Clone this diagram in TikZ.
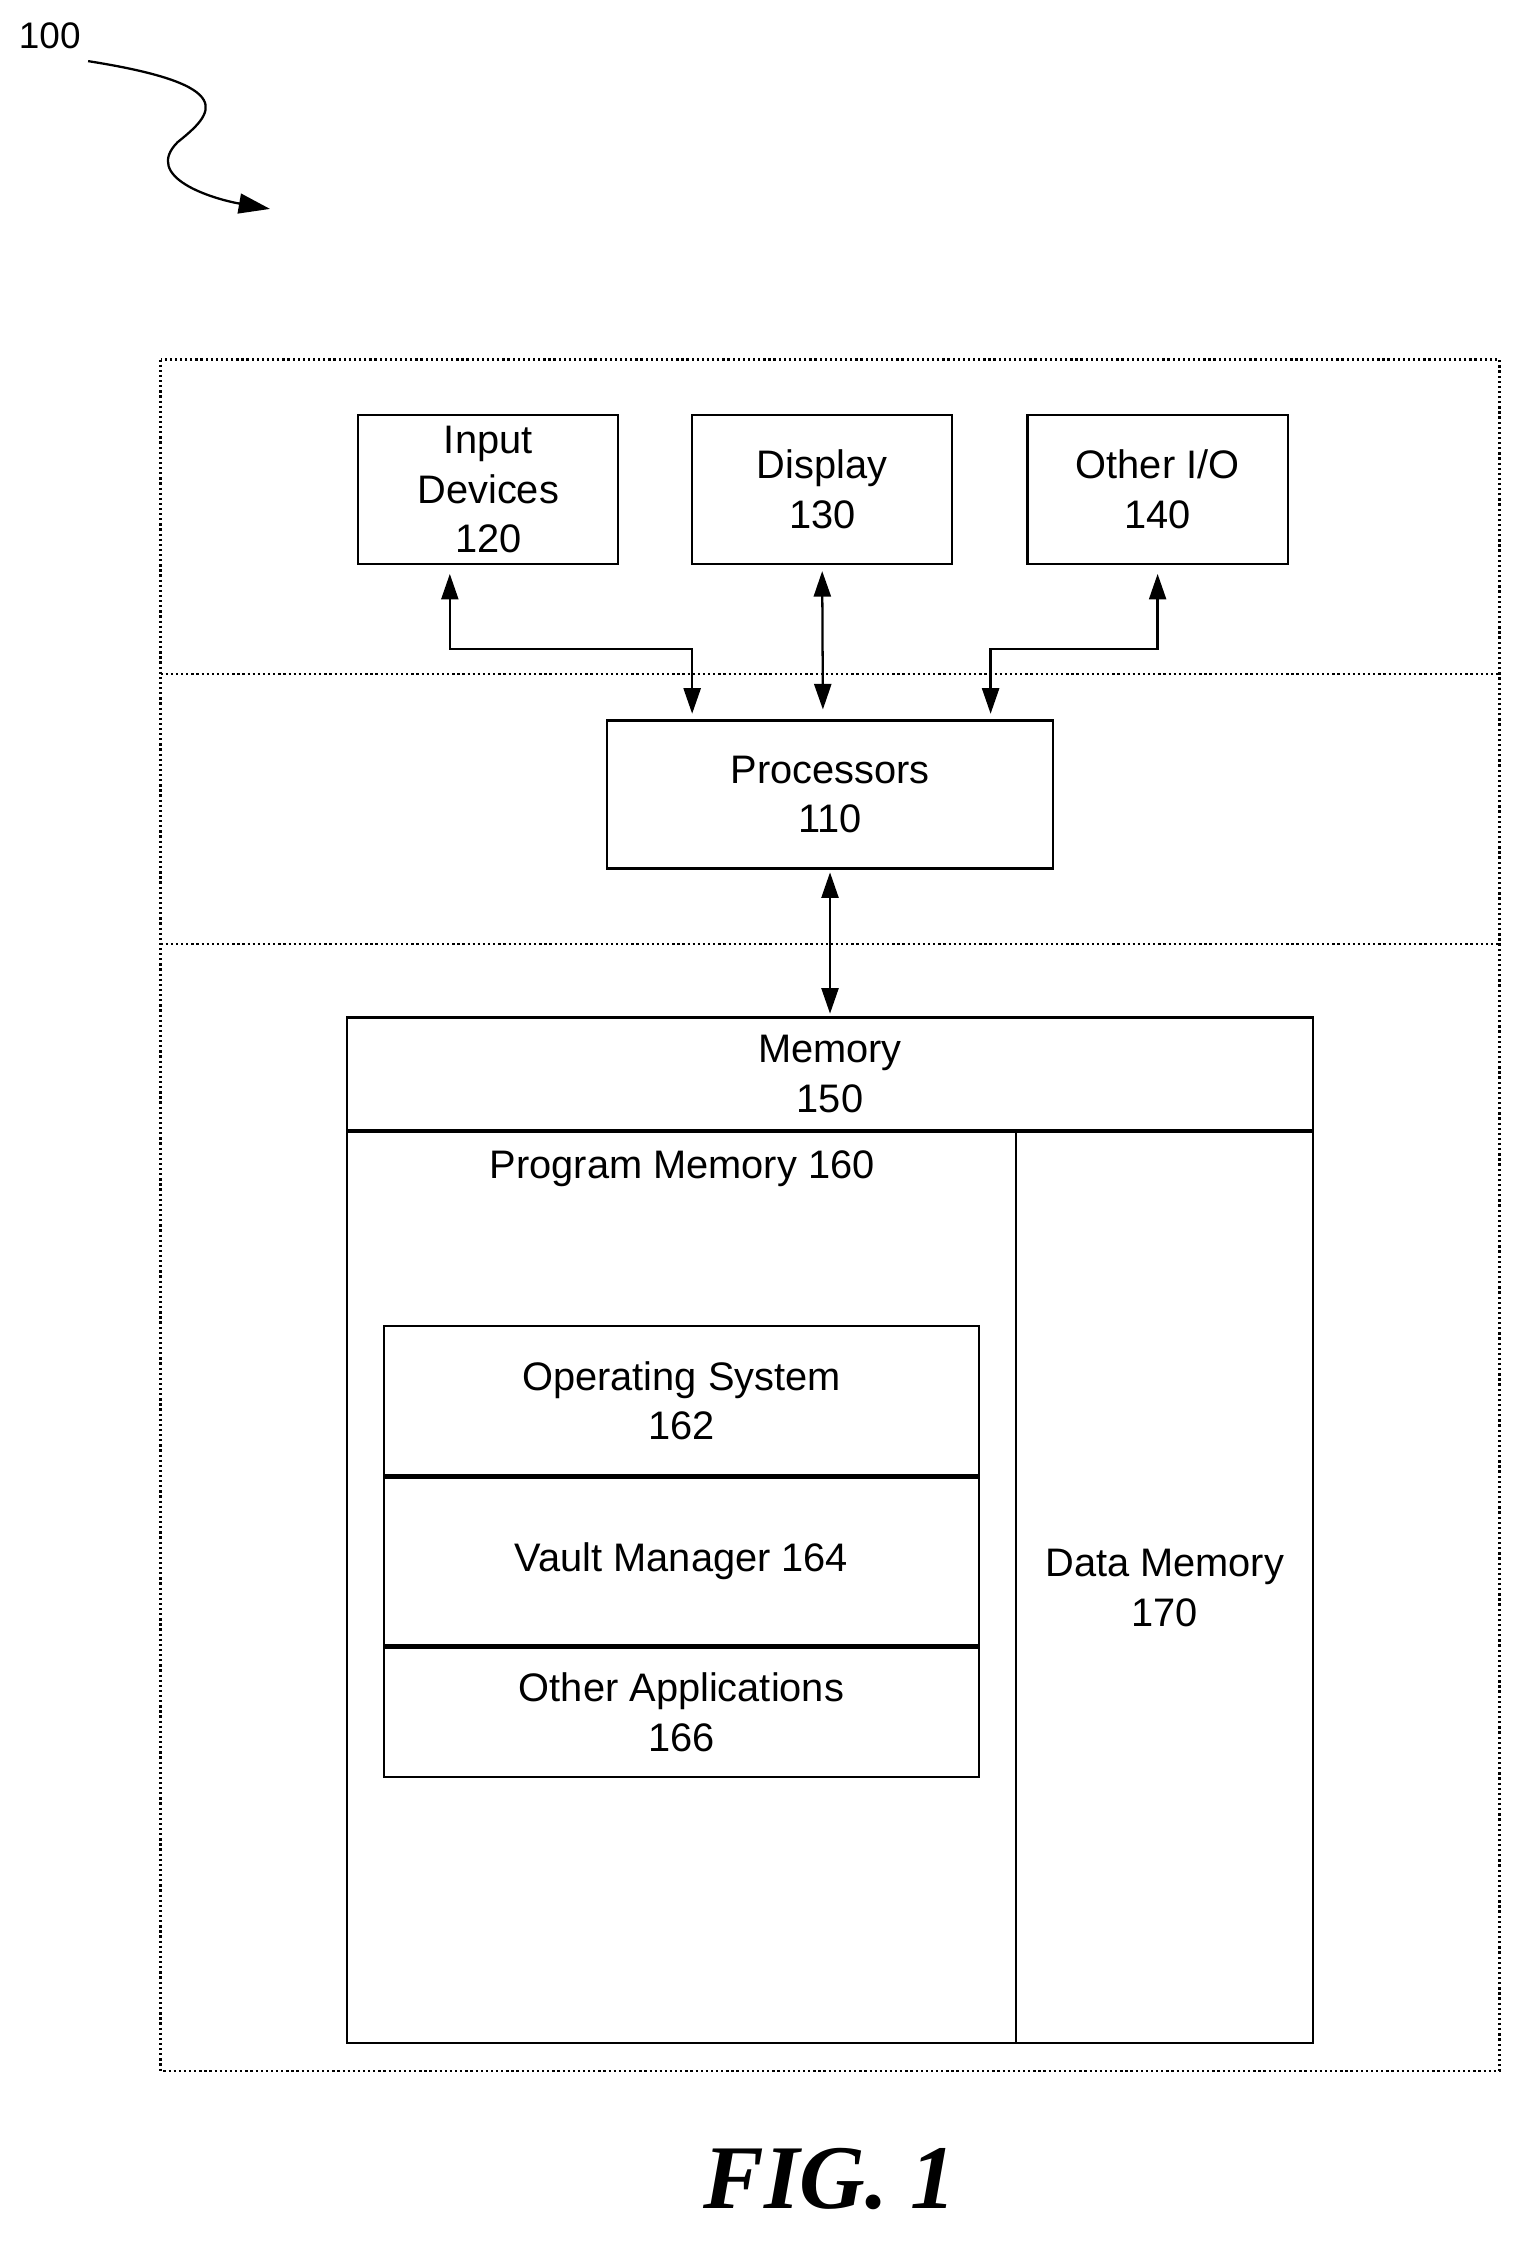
\documentclass[tikz,border=0pt]{standalone}
\usepackage{fontspec}
\setmainfont{Liberation Sans}
\newfontfamily\figfont{Liberation Serif}
\usetikzlibrary{arrows.meta,positioning}
\tikzset{
    unit-box/.style = {draw, thick, rectangle, align=center, inner sep=0pt, font=\fontsize{14}{17.5}\selectfont},
    zone/.style = {draw, densely dotted, thick},
    bus/.style = {thick, {Triangle[width=6pt,length=9pt]}-{Triangle[width=6pt,length=9pt]}},
}
\begin{document}
\begin{tikzpicture}[x=0.5pt,y=-0.5pt]
\useasboundingbox (0,0) rectangle (1080,1581);
% reference and zones
\node[font=\fontsize{13}{15}\selectfont] (ref) at (35,25) {100};
\coordinate (refend) at (190,147);
\draw[thick,-{Triangle[width=7pt,length=11pt]}] (62,43) .. controls (170,60) and (150,80) .. (125,100) .. controls (100,125) and (150,140) .. (refend);
\draw[zone] (113,253) rectangle (1055,1457);
\draw[zone] (113,474) -- (1055,474);
\draw[zone] (113,664) -- (1055,664);
% io devices
\node[unit-box, minimum width=91.5pt, minimum height=52.5pt] (input) at (343.5,344.5) {Input\\Devices\\120};
\node[unit-box, minimum width=91.5pt, minimum height=52.5pt] (display) at (578.5,344.5) {Display\\130};
\node[unit-box, minimum width=91.5pt, minimum height=52.5pt] (otherio) at (814.5,344.5) {Other I/O\\140};
\node[unit-box, minimum width=157pt, minimum height=52pt] (proc) at (584,559) {Processors\\110};
% memory
\node[unit-box, minimum width=340pt, minimum height=39.5pt] (mem) at (584,755.5) {Memory\\150};
\node[unit-box, minimum width=235.5pt, minimum height=320.5pt, anchor=north west] (prog) at (mem.south west) {};
\node[unit-box, minimum width=104.5pt, minimum height=320.5pt, anchor=north east] (data) at (mem.south east) {Data Memory\\170};
\node[font=\fontsize{14}{17.5}\selectfont] (progtitle) at (480,822) {Program Memory 160};
\node[unit-box, minimum width=209.5pt, minimum height=52.5pt] (os) at (479.5,985.5) {Operating System\\162};
\node[unit-box, minimum width=209.5pt, minimum height=59pt, below=0pt of os] (vault) {Vault Manager 164};
\node[unit-box, minimum width=209.5pt, minimum height=45.5pt, below=0pt of vault] (apps) {Other Applications\\166};
% buses
\draw[bus] ([xshift=-13.5pt,yshift=-3pt]input.south) -- ++(0,-26.5pt) -| ([xshift=-48.5pt,yshift=2pt]proc.north);
\draw[bus] ([yshift=-2pt]display.south) -- ([xshift=-2.5pt,yshift=3.5pt]proc.north);
\draw[bus] ([yshift=-3pt]otherio.south) -- ++(0,-26.5pt) -| ([xshift=56.5pt,yshift=2pt]proc.north);
\draw[bus] ([yshift=-1pt]proc.south) -- ([yshift=1pt]mem.north);
\node[font=\figfont\bfseries\itshape\fontsize{32}{36}\selectfont] (fig) at (584,1533) {FIG. 1};
\end{tikzpicture}
\end{document}
